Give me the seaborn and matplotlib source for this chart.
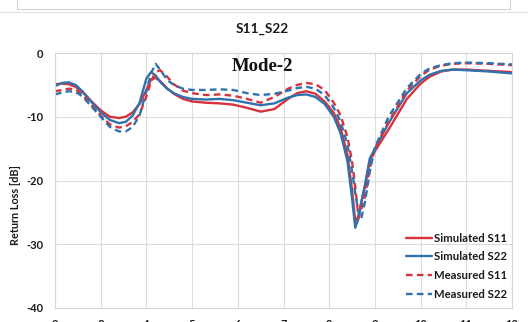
import matplotlib
matplotlib.use("Agg")
import matplotlib.pyplot as plt
from matplotlib.lines import Line2D
import seaborn as sns
import pandas as pd

# ---- data ----
freq = [2.0, 2.15, 2.3, 2.45, 2.6, 2.8, 3.0, 3.2, 3.4, 3.55, 3.7, 3.85, 4.0, 4.1,
        4.2, 4.3, 4.45, 4.6, 4.8, 5.0, 5.3, 5.6, 5.9, 6.2, 6.5, 6.8, 7.1, 7.3, 7.5,
        7.7, 7.9, 8.1, 8.25, 8.4, 8.5, 8.57, 8.64, 8.7, 8.78, 8.89, 9.0, 9.3, 9.7,
        10.0, 10.2, 10.45, 10.7, 11.0, 11.5, 12.0]

sim_s11 = [-4.9, -4.8, -4.9, -5.3, -6.1, -7.6, -9.0, -10.0, -10.2, -10.0, -9.3, -8.0,
           -5.8, -4.2, -3.9, -4.4, -5.5, -6.4, -7.2, -7.6, -7.8, -7.9, -8.1, -8.6,
           -9.2, -8.8, -7.2, -6.3, -6.0, -6.4, -7.6, -9.4, -11.8, -16.0, -21.5,
           -26.4, -25.6, -23.5, -21.0, -16.8, -15.4, -12.0, -7.2, -4.8, -3.7, -2.9,
           -2.6, -2.6, -2.8, -3.0]

sim_s22 = [-5.2, -4.7, -4.6, -5.0, -6.0, -7.7, -9.3, -10.5, -11.0, -10.8, -9.8, -7.8,
           -4.0, -3.0, -3.5, -4.5, -5.6, -6.3, -6.9, -7.2, -7.3, -7.2, -7.4, -7.8,
           -8.2, -7.9, -7.0, -6.6, -6.5, -6.9, -8.0, -10.0, -12.6, -17.0, -22.8,
           -27.4, -26.0, -23.5, -20.8, -16.5, -15.0, -11.0, -6.3, -4.3, -3.4, -2.8,
           -2.6, -2.7, -2.9, -3.2]

meas_s11 = [-6.0, -5.8, -5.6, -5.7, -6.5, -8.2, -9.8, -11.2, -11.7, -11.5, -10.8, -9.6,
            -6.8, -4.5, -3.0, -2.7, -3.7, -4.9, -5.9, -6.3, -6.6, -6.5, -6.7, -7.2,
            -7.8, -6.9, -5.6, -5.0, -4.7, -4.9, -5.8, -7.8, -9.8, -13.2, -17.0,
            -21.0, -25.8, -24.5, -22.5, -18.0, -15.0, -10.8, -5.9, -3.6, -2.6, -2.0,
            -1.7, -1.6, -1.7, -1.9]

meas_s22 = [-6.5, -6.2, -6.0, -6.1, -6.8, -8.4, -10.0, -11.6, -12.3, -12.3, -11.6, -9.8,
            -6.0, -3.2, -1.7, -2.6, -4.2, -5.0, -5.6, -5.8, -5.8, -5.7, -5.8, -6.3,
            -6.6, -6.4, -5.9, -5.5, -5.3, -5.6, -6.6, -8.6, -10.8, -14.4, -18.5,
            -22.0, -25.0, -26.0, -23.5, -18.5, -14.8, -10.0, -5.5, -3.3, -2.4, -1.9,
            -1.6, -1.5, -1.6, -1.8]

series_names = ["Simulated S11", "Simulated S22", "Measured S11", "Measured S22"]
x_ticks = [2, 3, 4, 5, 6, 7, 8, 9, 10, 11, 12]
y_ticks = [0, -10, -20, -30, -40]
y_tick_labels = ["0", "-10", "-20", "-30", "-40"]
title = "S11_S22"
annotation = "Mode-2"
y_label = "Return Loss [dB]"

# ---- build table ----
frames = []
for name, vals in zip(series_names, [sim_s11, sim_s22, meas_s11, meas_s22]):
    frames.append(pd.DataFrame({"freq": freq, "value": vals, "series": name}))
df = pd.concat(frames, ignore_index=True)

RED = "#d8323a"
BLUE = "#2f72ad"
palette = {"Simulated S11": RED, "Simulated S22": BLUE,
           "Measured S11": RED, "Measured S22": BLUE}
dashes = {"Simulated S11": "", "Simulated S22": "",
          "Measured S11": (2.8, 1.8), "Measured S22": (2.8, 1.8)}

sns.set_theme(style="white")
plt.rcParams["font.family"] = ["Lato", "DejaVu Sans"]
plt.rcParams["axes.unicode_minus"] = False

W, H = 528, 322
fig = plt.figure(figsize=(W / 100, H / 100), dpi=100)
fig.patch.set_facecolor("white")
ax = fig.add_axes([55 / W, 1 - 308 / H, (512 - 55) / W, (308 - 53) / H])

sns.lineplot(data=df, x="freq", y="value", hue="series", style="series",
             palette=palette, dashes=dashes, hue_order=series_names,
             style_order=series_names, estimator=None, sort=False,
             linewidth=1.7, ax=ax)

ax.set_xlim(2, 12)
ax.set_ylim(-40, 0)
ax.set_xticks(x_ticks)
ax.set_xticklabels([str(t) for t in x_ticks])
ax.set_yticks(y_ticks)
ax.set_yticklabels(y_tick_labels)
ax.grid(True, color="#dcdcdc", linewidth=0.8)
ax.set_axisbelow(True)
for s in ax.spines.values():
    s.set_color("#d6d6d6")
    s.set_linewidth(0.8)
ax.tick_params(axis="both", length=0, labelsize=8, labelcolor="#1a1a1a")
ax.tick_params(axis="y", pad=8.5)
ax.tick_params(axis="x", pad=8)
for lab in ax.get_xticklabels() + ax.get_yticklabels():
    lab.set_fontweight("bold")
ax.set_xlabel("")
ax.set_ylabel("")

# legend
handles, labels = ax.get_legend_handles_labels()
leg = ax.legend(handles, labels, loc="upper left",
                bbox_to_anchor=(406 / W, 1 - 232.5 / H), bbox_transform=fig.transFigure,
                frameon=False, fontsize=8.2, labelspacing=0.68, handlelength=2.3,
                handletextpad=0.2, borderpad=0, borderaxespad=0)
for t in leg.get_texts():
    t.set_fontweight("bold")
    t.set_color("#1a1a1a")
for h in leg.get_lines():
    h.set_linewidth(1.7)

# texts
fig.text(262 / W, 1 - 29 / H, title, ha="center", va="center",
         fontsize=9.8, fontweight="bold", color="#1a1a1a")
fig.text(16 / W, 1 - 205 / H, y_label, ha="center", va="center", rotation=90,
         fontsize=7.8, fontweight="bold", color="#1a1a1a")
ax.text(262 / W, 1 - 66.5 / H, annotation, transform=fig.transFigure,
        ha="center", va="center", fontsize=13.5, fontweight="bold",
        family=["Liberation Serif", "DejaVu Serif"], color="#111111")

# screenshot frame remnants at top
gc = "#cfcfcf"
fig.add_artist(Line2D([17 / W, 17 / W], [1, 1 - 9 / H], color=gc, lw=0.8,
                      transform=fig.transFigure))
fig.add_artist(Line2D([510 / W, 510 / W], [1, 1 - 9 / H], color=gc, lw=0.8,
                      transform=fig.transFigure))
fig.add_artist(Line2D([17 / W, 510 / W], [1 - 9 / H, 1 - 9 / H], color=gc, lw=0.8,
                      transform=fig.transFigure))
fig.add_artist(Line2D([0, 1], [1 - 12 / H, 1 - 12 / H], color="#e2e2e2", lw=0.8,
                      transform=fig.transFigure))

fig.savefig("out.png", dpi=100)
